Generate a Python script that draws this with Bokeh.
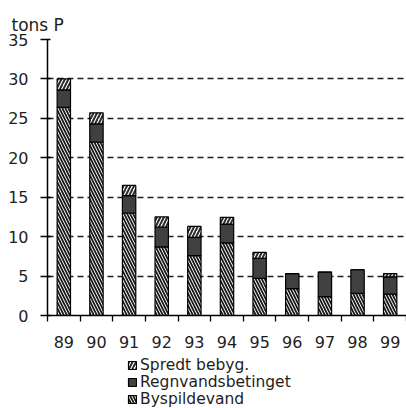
from bokeh.plotting import figure
from bokeh.layouts import column
from bokeh.models import (ColumnDataSource, Range1d, FixedTicker, Legend, LegendItem, Title)
from bokeh.embed import file_html
from bokeh.resources import INLINE

years = ["89", "90", "91", "92", "93", "94", "95", "96", "97", "98", "99"]
byspildevand = [26.4, 22.0, 13.0, 8.7, 7.6, 9.2, 4.7, 3.4, 2.4, 2.8, 2.7]
regnvand = [2.2, 2.3, 2.2, 2.5, 2.3, 2.4, 2.55, 1.9, 3.1, 3.0, 2.2]
spredt = [1.4, 1.4, 1.3, 1.3, 1.4, 0.85, 0.75, 0.0, 0.0, 0.0, 0.4]
series_names = ["Byspildevand", "Regnvandsbetinget", "Spredt bebyg."]
y_ticks = [0, 5, 10, 15, 20, 25, 30, 35]
grid_ticks = [5, 10, 15, 20, 25, 30]

xs = list(range(len(years)))
src = ColumnDataSource(dict(x=xs, bysp=byspildevand, regn=regnvand, spredt=spredt))

FONT = "DejaVu Sans"
INK = "#1e1e1e"
style = dict(fill_color=["white", "#404040", "white"], line_color="black", line_width=1.2,
             hatch_pattern=["\\", " ", "/"], hatch_color=["#1a1a1a", "#404040", "#2a2a2a"],
             hatch_scale=[6, 6, 7], hatch_weight=[1.8, 1.0, 2.0])

p = figure(width=406, height=354, output_backend="svg", toolbar_location=None,
           x_range=Range1d(-0.5, len(years) - 0.5), y_range=Range1d(0, 35),
           min_border_left=47, min_border_right=0, min_border_top=39, min_border_bottom=39)
p.outline_line_color = None
p.background_fill_color = "white"
p.border_fill_color = "white"

p.add_layout(Title(text="tons P", align="left", offset=-36, text_font=FONT,
                   text_font_size="17px", text_font_style="normal",
                   text_color=INK, standoff=10), "above")

renderers = p.vbar_stack(["bysp", "regn", "spredt"], x="x", width=0.41, source=src, **style)

# axes
p.xaxis.ticker = FixedTicker(ticks=xs, minor_ticks=[i - 0.5 for i in range(len(years) + 1)])
p.xaxis.major_label_overrides = {i: y for i, y in enumerate(years)}
p.xaxis.major_tick_in = 0
p.xaxis.major_tick_out = 0
p.xaxis.minor_tick_in = 0
p.xaxis.minor_tick_out = 6
p.xaxis.minor_tick_line_color = "black"
p.xaxis.minor_tick_line_width = 1.3
p.xaxis.major_label_standoff = 14

p.yaxis.ticker = FixedTicker(ticks=y_ticks)
p.yaxis.major_tick_in = 3
p.yaxis.major_tick_out = 7
p.yaxis.minor_tick_line_color = None
p.yaxis.major_label_standoff = 12

for ax in (p.xaxis, p.yaxis):
    ax.axis_line_color = "black"
    ax.axis_line_width = 1.5
    ax.major_tick_line_color = "black"
    ax.major_tick_line_width = 1.3
    ax.major_label_text_font = FONT
    ax.major_label_text_font_size = "16px"
    ax.major_label_text_color = INK

p.xgrid.grid_line_color = None
p.ygrid.ticker = FixedTicker(ticks=grid_ticks)
p.ygrid.grid_line_color = "#1e1e1e"
p.ygrid.grid_line_dash = "6 4"
p.ygrid.grid_line_width = 1.4

# legend strip below the chart (same bars, kept out of its view)
lg = figure(width=406, height=54, output_backend="svg", toolbar_location=None,
            x_range=Range1d(100, 101), y_range=Range1d(100, 101),
            min_border_left=0, min_border_right=0, min_border_top=0, min_border_bottom=0)
lg.axis.visible = False
lg.grid.grid_line_color = None
lg.outline_line_color = None
lg.background_fill_color = "white"
lg.border_fill_color = "white"
swatches = lg.vbar_stack(["bysp", "regn", "spredt"], x="x", width=0.41, source=src, **style)

row_bottoms = [34, 17, 0]
for row, idx in enumerate((2, 1, 0)):
    leg = Legend(items=[LegendItem(label=series_names[idx], renderers=[swatches[idx]])],
                 location=(80, row_bottoms[row]), orientation="vertical",
                 glyph_width=10, glyph_height=10, label_height=16, spacing=0,
                 label_standoff=3, padding=0, margin=0,
                 border_line_color=None, background_fill_alpha=0,
                 label_text_font=FONT, label_text_font_size="15.5px", label_text_color=INK)
    lg.add_layout(leg, "center")

open("out.html", "w").write(file_html(column(p, lg, spacing=0), INLINE))
